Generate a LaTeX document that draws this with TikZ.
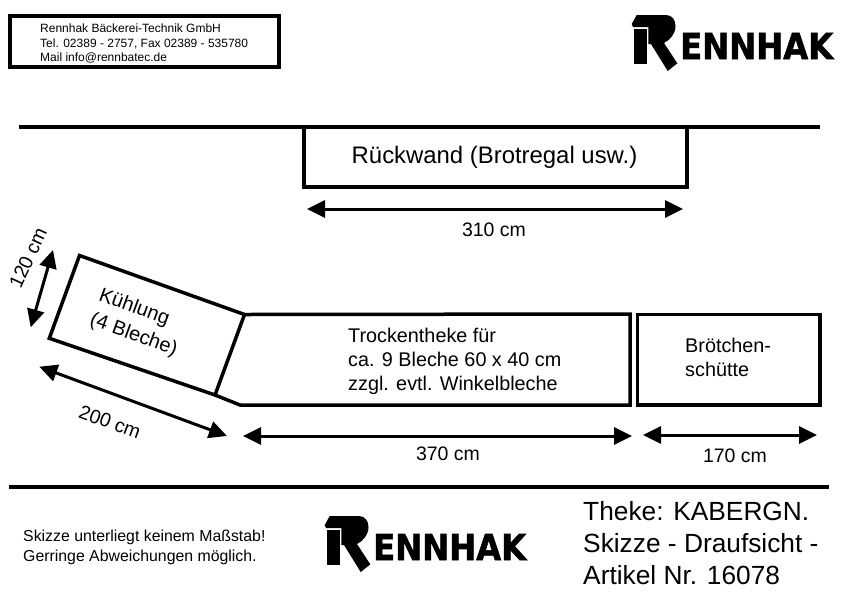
\documentclass[tikz,border=0pt]{standalone}
\usepackage{fontspec}
\setmainfont{Liberation Sans}
\newfontfamily\logofont[BoldFeatures={FakeBold=1.5}]{DejaVu Sans}
\usetikzlibrary{arrows.meta}
\newcommand{\fs}[2]{\fontsize{#1}{#2}\selectfont}
\tikzset{
  wall/.style={draw=black,line width=3.5pt,miter limit=10},
  dim/.style={line width=3pt,{Triangle[length=18pt,width=17pt]}-{Triangle[length=18pt,width=17pt]}},
  label/.style={inner sep=0pt,text=black},
  body/.style={label,font=\fs{19.8}{24},align=left},
  dimtext/.style={label,font=\fs{19.5}{23}},
  head/.style={label,font=\fs{12}{14.5},align=left},
  note/.style={label,font=\fs{15.85}{20},align=left},
  title/.style={label,font=\fs{26.3}{32},align=left}
}
\newcommand{\rennlogo}[3]{%
\begin{scope}[shift={(#1,#2)}]
  \fill[black] (11.7,24) -- (16.7,15) -- (46,15) .. controls (52,15) and (55.5,20) .. (55.5,26)
     .. controls (55.5,34) and (50,40) .. (44,43) -- (57.3,63.3) -- (47.7,71) -- (31,44) -- (28.3,44) -- (28.3,27) -- (13,27) -- cycle;
  \fill[black] (14,28.5) rectangle (26.9,64);
  \node[label,anchor=base west] (#3) at (60,59) {\resizebox{153pt}{26pt}{\logofont\bfseries ENNHAK}};
\end{scope}}
\begin{document}
\begin{tikzpicture}[x=1pt,y=-1pt]
\useasboundingbox[fill=white] (0,0) rectangle (842,595);
% header box
\draw[line width=4pt] (9.5,16.3) rectangle (278.5,67.3);
\node[head,anchor=west] (addr) at (40,43.5) {Rennhak Bäckerei-Technik GmbH\\Tel. 02389 - 2757, Fax 02389 - 535780\\Mail info@rennbatec.de};
\rennlogo{620}{0}{logoTop}
% top wall
\coordinate (topL) at (19,127);
\coordinate (topR) at (820,127);
\draw[wall] (topL) -- (topR);
\coordinate (rwTL) at (304,127);
\coordinate (rwBL) at (304,187);
\coordinate (rwBR) at (687,187);
\coordinate (rwTR) at (687,127);
\draw[wall] (rwTL) -- (rwBL) -- (rwBR) -- (rwTR);
\node[label,font=\fs{23.9}{28}] (rw) at (494.5,157.5) {Rückwand (Brotregal usw.)};
\coordinate (d310a) at (307,209);
\coordinate (d310b) at (683,209);
\draw[dim] (d310a) -- (d310b);
\node[dimtext] (t310) at (494,230) {310 cm};
% Kuehlung
\coordinate (kA) at (79.5,255.5);
\coordinate (kB) at (244.5,314.5);
\coordinate (kC) at (215,395);
\coordinate (kD) at (49.3,338.3);
\draw[wall] (kA) -- (kB) -- (kC) -- (kD) -- cycle;
\node[label,font=\fs{20}{26},align=left,rotate=-20] (kl) at (138,323) {Kühlung\\(4 Bleche)};
\coordinate (d120a) at (53,250);
\coordinate (d120b) at (30.7,327.3);
\draw[dim] (d120a) -- (d120b);
\node[dimtext,rotate=65] (t120) at (28,258) {120 cm};
\coordinate (d200a) at (39.3,366.7);
\coordinate (d200b) at (227,436);
\draw[dim] (d200a) -- (d200b);
\node[dimtext,rotate=-20] (t200) at (110,422) {200 cm};
% Trockentheke
\coordinate (tTR) at (630,314);
\coordinate (tBR) at (630,405);
\coordinate (tBL) at (240,405);
\draw[wall] (kB) -- (tTR) -- (tBR) -- (tBL) -- (kC);
\node[body,anchor=west] (tt) at (348,361) {Trockentheke für\\ca. 9 Bleche 60 x 40 cm\\zzgl. evtl. Winkelbleche};
\coordinate (d370a) at (243,436);
\coordinate (d370b) at (632,436);
\draw[dim] (d370a) -- (d370b);
\node[dimtext] (t370) at (448,454) {370 cm};
% Broetchen
\draw[wall] (637.5,314.5) rectangle (820,405);
\node[body,anchor=west] (br) at (685,357) {Brötchen-\\schütte};
\coordinate (d170a) at (643,435);
\coordinate (d170b) at (817,435);
\draw[dim] (d170a) -- (d170b);
\node[dimtext] (t170) at (735,456) {170 cm};
% bottom
\coordinate (botL) at (9,487);
\coordinate (botR) at (829,487);
\draw[wall] (botL) -- (botR);
\node[note,anchor=west] (nt) at (23,547) {Skizze unterliegt keinem Maßstab!\\Gerringe Abweichungen möglich.};
\rennlogo{313}{501}{logoBot}
\node[title,anchor=west] (ti) at (583,543.5) {Theke: KABERGN.\\Skizze - Draufsicht -\\Artikel Nr. 16078};
\end{tikzpicture}
\end{document}
